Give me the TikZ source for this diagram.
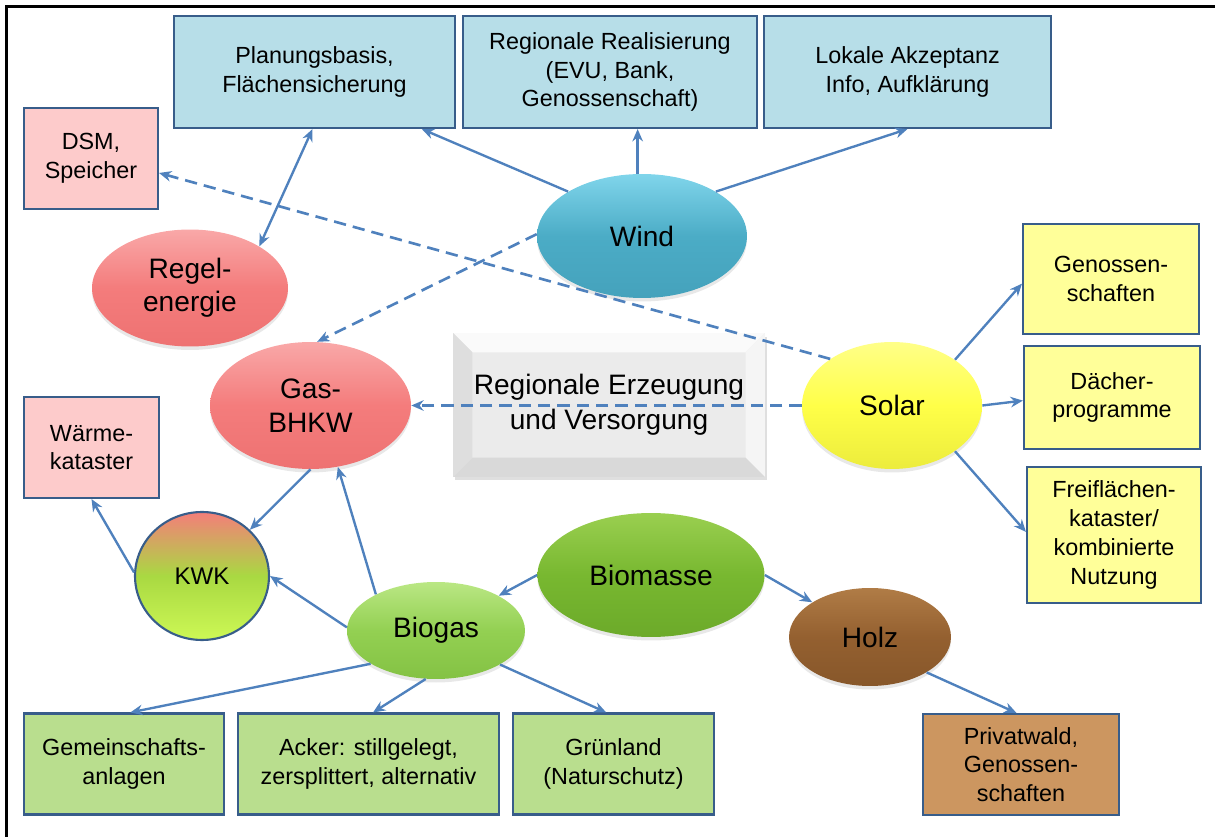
\documentclass[tikz,border=0pt]{standalone}
\usepackage{fontspec}
\setmainfont{Liberation Sans}
\usetikzlibrary{shapes.geometric,arrows.meta,shadows}

\definecolor{linkblue}{HTML}{4F81BD}
\definecolor{boxline}{HTML}{385D8A}
\definecolor{windbox}{HTML}{B7DEE8}
\definecolor{redbox}{HTML}{FDCBCB}
\definecolor{solarbox}{HTML}{FFFF99}
\definecolor{biobox}{HTML}{B9DE8E}
\definecolor{woodbox}{HTML}{CC9660}
% Ellipsen: hell oben, Grundton, Rand unten
\definecolor{windtop}{HTML}{80D5EB}
\definecolor{windmid}{HTML}{4BACC6}
\definecolor{windbot}{HTML}{45A2BC}
\definecolor{redtop}{HTML}{F9A8A8}
\definecolor{redmid}{HTML}{F47C7C}
\definecolor{redbot}{HTML}{EE7272}
\definecolor{solartop}{HTML}{FFFF88}
\definecolor{solarmid}{HTML}{FFFF48}
\definecolor{solarbot}{HTML}{ECEC3C}
\definecolor{biomtop}{HTML}{9ACF50}
\definecolor{biommid}{HTML}{78B830}
\definecolor{biombot}{HTML}{6CAA2A}
\definecolor{biogtop}{HTML}{BAE784}
\definecolor{biogmid}{HTML}{93D052}
\definecolor{biogbot}{HTML}{84C244}
\definecolor{holztop}{HTML}{B07C46}
\definecolor{holzmid}{HTML}{946030}
\definecolor{holzbot}{HTML}{87572A}
\definecolor{kwktop}{HTML}{F47E7A}
\definecolor{kwkmid}{HTML}{A9D942}
\definecolor{kwkbot}{HTML}{CDF855}

\begin{document}
\begin{tikzpicture}[x=0.02cm,y=-0.02cm,>={Stealth[length=7pt,width=6pt]}]
    \tikzstyle{every node}=[font=\fontsize{13.3}{16.4}\selectfont, align=center, inner sep=0pt]
    \tikzstyle{box}=[rectangle, draw=boxline, line width=1.2pt]
    \tikzstyle{blob}=[ellipse, font=\fontsize{16}{19}\selectfont,
        drop shadow={opacity=0.18, shadow xshift=0pt, shadow yshift=-2pt}]
    \tikzstyle{link}=[draw=linkblue, line width=1.35pt, ->]
    \tikzstyle{dashlink}=[link, line width=1.5pt, dash pattern=on 7pt off 4pt]
    \tikzstyle{bevel}=[fill=black!8, path picture={
        \fill[black!2] (path picture bounding box.north west) -- (path picture bounding box.north east)
            -- ([shift={(-11pt,-11pt)}]path picture bounding box.north east)
            -- ([shift={(11pt,-11pt)}]path picture bounding box.north west) -- cycle;
        \fill[black!13] (path picture bounding box.north west) -- ([shift={(11pt,-11pt)}]path picture bounding box.north west)
            -- ([shift={(11pt,11pt)}]path picture bounding box.south west) -- (path picture bounding box.south west) -- cycle;
        \fill[black!4] (path picture bounding box.north east) -- ([shift={(-11pt,-11pt)}]path picture bounding box.north east)
            -- ([shift={(-11pt,11pt)}]path picture bounding box.south east) -- (path picture bounding box.south east) -- cycle;
        \fill[black!15] (path picture bounding box.south west) -- ([shift={(11pt,11pt)}]path picture bounding box.south west)
            -- ([shift={(-11pt,11pt)}]path picture bounding box.south east) -- (path picture bounding box.south east) -- cycle;
    }]

    \useasboundingbox (0,0) rectangle (1215,837);
    \draw[line width=1.5pt] (6.5,837) -- (6.5,6.5) -- (1215,6.5);

    % Wind
    \node[box, fill=windbox, minimum width=5.62cm, minimum height=2.24cm] (plan) at (314.5,72) {Planungsbasis,\\Flächensicherung};
    \node[box, fill=windbox, minimum width=5.88cm, minimum height=2.24cm] (real) at (610,72) {Regionale Realisierung\\(EVU, Bank,\\Genossenschaft)};
    \node[box, fill=windbox, minimum width=5.74cm, minimum height=2.24cm] (akz) at (907.5,72) {Lokale Akzeptanz\\Info, Aufklärung};
    \node[blob, top color=windtop, bottom color=windbot, middle color=windmid,
        minimum width=4.2cm, minimum height=2.48cm] (wind) at (642,236) {Wind};

    % Gas und Regelenergie
    \node[box, fill=redbox, minimum width=2.68cm, minimum height=2.02cm] (dsm) at (91,158.5) {DSM,\\Speicher};
    \node[blob, top color=redtop, bottom color=redbot, middle color=redmid, minimum width=3.92cm, minimum height=2.34cm] (regel) at (190,288) {Regel-\\energie};
    \node[blob, top color=redtop, bottom color=redbot, middle color=redmid, minimum width=4.02cm, minimum height=2.54cm] (gas) at (310.5,405.5) {Gas-\\BHKW};
    \node[box, fill=redbox, minimum width=2.7cm, minimum height=2.02cm] (waerme) at (91.5,447.5) {Wärme-\\kataster};
    \node[ellipse, draw=boxline, line width=1.2pt, font=\fontsize{13.7}{16}\selectfont,
        top color=kwktop, bottom color=kwkbot, middle color=kwkmid,
        minimum width=2.68cm, minimum height=2.56cm] (kwk) at (202,576) {KWK};

    % Mitte
    \node[bevel, minimum width=6.24cm, minimum height=2.88cm, font=\fontsize{16}{20}\selectfont,
        drop shadow={opacity=0.25, shadow xshift=1pt, shadow yshift=-2pt}] (hub) at (609,405) {Regionale Erzeugung\\und Versorgung};

    % Solar
    \node[blob, top color=solartop, bottom color=solarbot, middle color=solarmid,
        minimum width=3.6cm, minimum height=2.54cm] (solar) at (892,405.5) {Solar};
    \node[box, fill=solarbox, minimum width=3.52cm, minimum height=2.2cm] (geno) at (1111,279) {Genossen-\\schaften};
    \node[box, fill=solarbox, minimum width=3.52cm, minimum height=2.06cm] (daech) at (1112,397.5) {Dächer-\\programme};
    \node[box, fill=solarbox, minimum width=3.48cm, minimum height=2.72cm] (frei) at (1114,535) {Freiflächen-\\kataster/\\kombinierte\\Nutzung};

    % Biomasse
    \node[blob, top color=biomtop, bottom color=biombot, middle color=biommid,
        minimum width=4.54cm, minimum height=2.48cm] (biomasse) at (651,575) {Biomasse};
    \node[blob, top color=biogtop, bottom color=biogbot, middle color=biogmid,
        minimum width=3.56cm, minimum height=1.94cm] (biogas) at (436,630.5) {Biogas};
    \node[blob, top color=holztop, bottom color=holzbot, middle color=holzmid,
        minimum width=3.24cm, minimum height=1.96cm] (holz) at (870,637) {Holz};
    \node[box, fill=biobox, minimum width=4cm, minimum height=2.02cm] (gemein) at (124,764) {Gemeinschafts-\\anlagen};
    \node[box, fill=biobox, minimum width=5.22cm, minimum height=2.02cm] (acker) at (368.5,764) {Acker: stillgelegt,\\zersplittert, alternativ};
    \node[box, fill=biobox, minimum width=4.02cm, minimum height=2.02cm] (gruen) at (613.5,764) {Grünland\\(Naturschutz)};
    \node[box, fill=woodbox, minimum width=3.92cm, minimum height=2.02cm] (privat) at (1021,764.5) {Privatwald,\\Genossen-\\schaften};

    % Verbindungen
    \draw[link] (wind.149) -- (plan.-28);
    \draw[link] (wind.94) -- (wind.94 |- real.south);
    \draw[link] (wind.31) -- (akz.south);
    \draw[link, <->] (plan.-92) -- (regel.31);
    \draw[dashlink] (solar.143) -- (dsm.-12);
    \draw[dashlink] (wind.179) -- (gas.84);
    \draw[dashlink] (solar.west) -- (gas.east);
    \draw[link] (solar.36) -- (geno.183);
    \draw[link] (solar.east) -- (daech.182);
    \draw[link] (solar.-36) -- (frei.178);
    \draw[link] (gas.south) -- (kwk.44);
    \draw[link] (biogas.149) -- (gas.-66);
    \draw[link] (biogas.178) -- (kwk.east);
    \draw[link] (kwk.177) -- (waerme.south);
    \draw[link] (biomasse.west) -- (biogas.29);
    \draw[link] (biomasse.east) -- (holz.149);
    \draw[link] (holz.-32) -- (privat.95);
    \draw[link] (biogas.207) -- (gemein.83);
    \draw[link] (biogas.258) -- (acker.85);
    \draw[link] (biogas.-28) -- (gruen.98);
\end{tikzpicture}
\end{document}
